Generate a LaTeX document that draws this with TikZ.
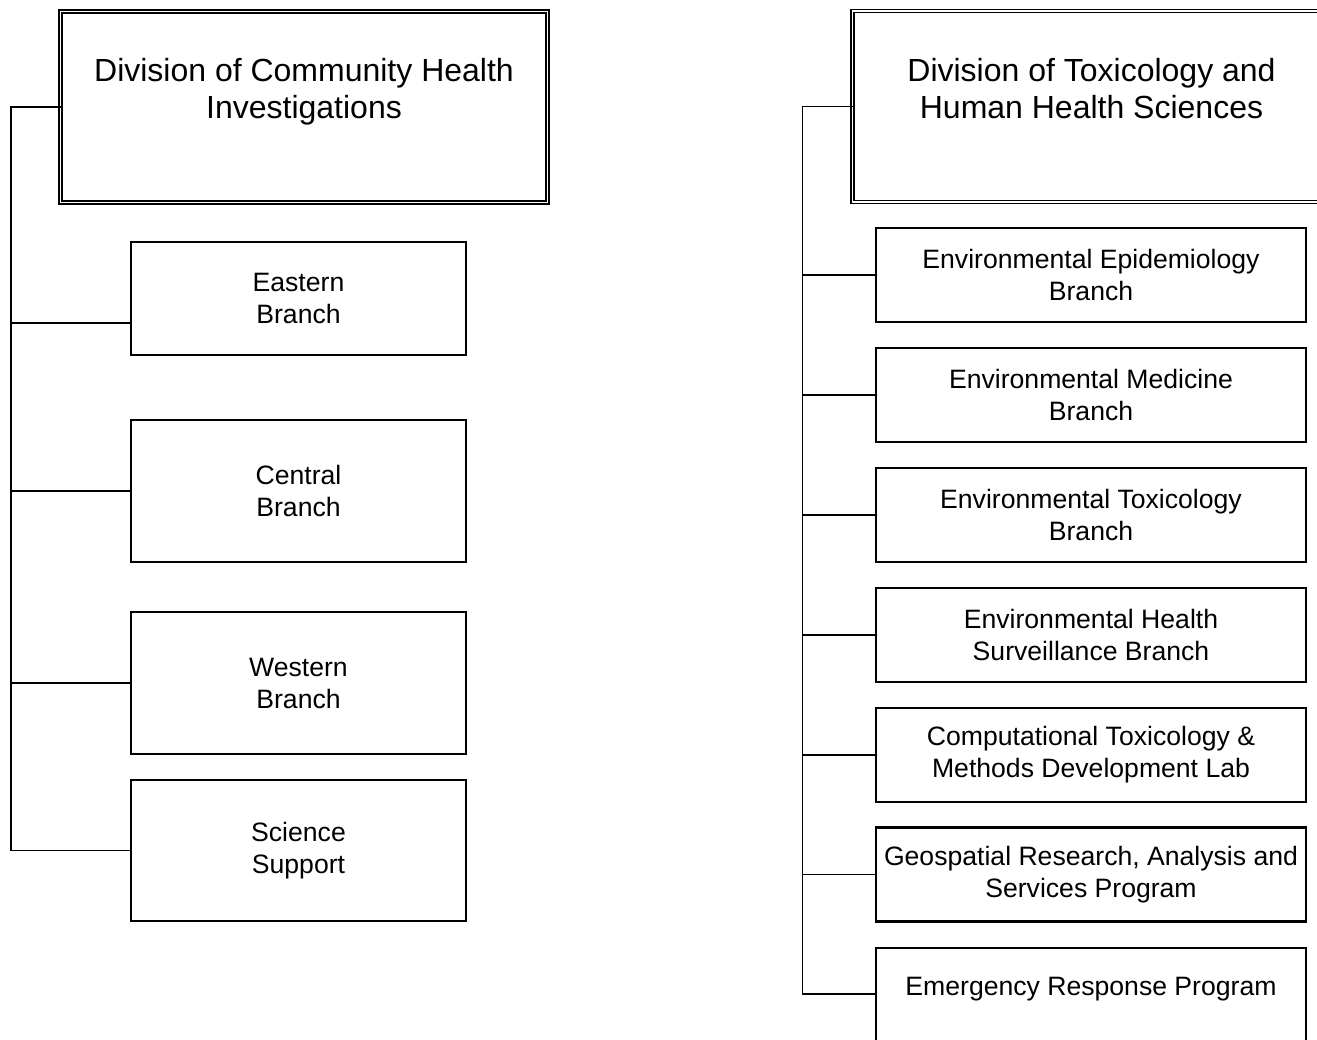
\documentclass[tikz,border=0pt]{standalone}
\usepackage{fontspec}
\setmainfont{Liberation Sans}
\begin{document}
\begin{tikzpicture}[x=1pt,y=-1pt,
  titlebox/.style={draw, double, line width=1.3pt, double distance=1.7pt, outer sep=0pt, align=center,
    font=\fontsize{32}{37}\selectfont, inner sep=0pt},
  unitbox/.style={draw, line width=2.6pt, outer sep=0pt, align=center,
    font=\fontsize{26.6}{32}\selectfont, inner sep=0pt},
  link/.style={line width=1.5pt, line cap=rect}]
\useasboundingbox (0,0) rectangle (1317,1039);
\clip (0,0) rectangle (1317,1039);
% left division
\node[titlebox, minimum width=487pt, minimum height=191pt] (ltitle) at (304,107)
  {Division of Community Health\\Investigations\\\mbox{}};
\node[unitbox, minimum width=335pt, minimum height=113pt] (lb1) at (298.5,298.5) {Eastern\\Branch};
\node[unitbox, minimum width=335pt, minimum height=142pt] (lb2) at (298.5,491) {Central\\Branch};
\node[unitbox, minimum width=335pt, minimum height=142pt] (lb3) at (298.5,683) {Western\\Branch};
\node[unitbox, minimum width=335pt, minimum height=141pt] (lb4) at (298.5,850.5) {Science\\Support};
\draw[link] (ltitle.west) -- ++(-49.5,0) |- (lb4.west);
\draw[link] ([yshift=-24.5pt]lb1.west) -- ++(-119,0);
\foreach \n in {lb2,lb3} \draw[link] (\n.west) -- ++(-119,0);
% right division
\node[titlebox, minimum width=478pt, minimum height=191pt] (rtitle) at (1091.5,106.5)
  {Division of Toxicology and\\Human Health Sciences\\\mbox{}};
\node[unitbox, minimum width=430pt, minimum height=94pt] (rb1) at (1091,275) {Environmental Epidemiology\\Branch};
\node[unitbox, minimum width=430pt, minimum height=94pt] (rb2) at (1091,395) {Environmental Medicine\\Branch};
\node[unitbox, minimum width=430pt, minimum height=94pt] (rb3) at (1091,515) {Environmental Toxicology\\Branch};
\node[unitbox, minimum width=430pt, minimum height=94pt] (rb4) at (1091,635) {Environmental Health\\Surveillance Branch};
\node[unitbox, minimum width=430pt, minimum height=94pt] (rb5) at (1091,755) {Computational Toxicology \&\\Methods Development Lab};
\node[unitbox, minimum width=430pt, minimum height=94pt] (rb6) at (1091,874.5) {Geospatial Research, Analysis and\\Services Program};
\node[unitbox, minimum width=430pt, minimum height=108pt] (rb7) at (1091,1002) {Emergency Response Program\\\mbox{}};
\draw[link] (rtitle.west) -- ++(-50,0) |- ([yshift=8pt]rb7.west);
\foreach \n in {rb1,rb2,rb3,rb4,rb5,rb6} \draw[link] (\n.west) -- ++(-73,0);
\end{tikzpicture}
\end{document}
